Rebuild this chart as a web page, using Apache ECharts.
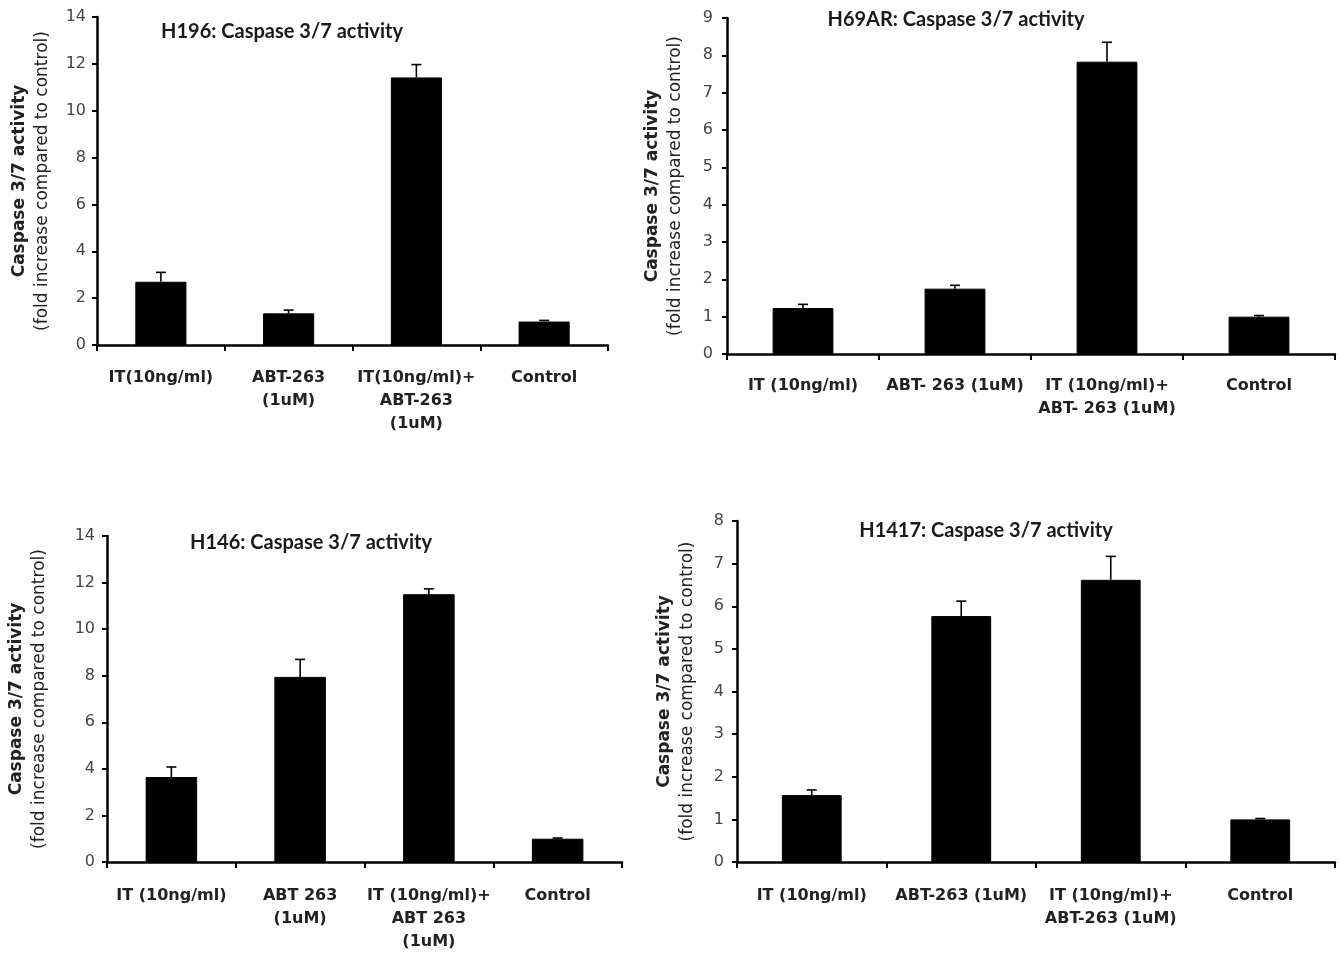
<!DOCTYPE html>
<html>
<head>
<meta charset="utf-8">
<script src="https://cdn.jsdelivr.net/npm/echarts@6/dist/echarts.min.js"></script>
<style>
html,body{margin:0;padding:0;background:#fff;}
#c{width:1340px;height:954px;}
</style>
</head>
<body>
<div id="c"></div>
<script>
// ---- data ----
const titles = ['H196: Caspase 3/7 activity', 'H69AR: Caspase 3/7 activity', 'H146: Caspase 3/7 activity', 'H1417: Caspase 3/7 activity'];
const cats1 = ['IT(10ng/ml)', 'ABT-263\n(1uM)', 'IT(10ng/ml)+\nABT-263\n(1uM)', 'Control'];
const cats2 = ['IT (10ng/ml)', 'ABT- 263 (1uM)', 'IT (10ng/ml)+\nABT- 263 (1uM)', 'Control'];
const cats3 = ['IT (10ng/ml)', 'ABT 263\n(1uM)', 'IT (10ng/ml)+\nABT 263\n(1uM)', 'Control'];
const cats4 = ['IT (10ng/ml)', 'ABT-263 (1uM)', 'IT (10ng/ml)+\nABT-263 (1uM)', 'Control'];
const vals1 = [2.7, 1.35, 11.42, 1.0];
const errs1 = [0.4, 0.14, 0.55, 0.05];
const vals2 = [1.23, 1.75, 7.83, 1.0];
const errs2 = [0.1, 0.09, 0.52, 0.03];
const vals3 = [3.65, 7.95, 11.5, 1.0];
const errs3 = [0.43, 0.75, 0.23, 0.03];
const vals4 = [1.57, 5.77, 6.62, 1.0];
const errs4 = [0.12, 0.35, 0.55, 0.02];
const yMax = [14, 9, 14, 8];
const yStep = [2, 1, 2, 1];
const yAxisName = ['Caspase 3/7 activity', '(fold increase compared to control)'];

// ---- layout ----
const grids = [
  {left: 97, top: 17, width: 511, height: 328},
  {left: 727, top: 18, width: 608, height: 336},
  {left: 107, top: 536, width: 515, height: 326},
  {left: 737, top: 521, width: 598, height: 341}
];
const titlePos = [[282, 22], [956, 10], [311, 533], [986, 521]];
const nameGaps = [43, 40, 56, 38];
const labelMargins = [21, 20, 22, 22];
const tickMargins = [11, 14, 12, 13];

const cats = [cats1, cats2, cats3, cats4];
const vals = [vals1, vals2, vals3, vals4];
const errs = [errs1, errs2, errs3, errs4];

const option = {
  backgroundColor: '#fff',
  animation: false,
  title: titles.map((t, i) => ({
    text: t, left: titlePos[i][0], top: titlePos[i][1], textAlign: 'center', padding: 0,
    textStyle: {fontFamily: 'Lato', fontWeight: 'bold', fontSize: 20, color: '#1a1a1a'}
  })),
  grid: grids.map(g => Object.assign({containLabel: false}, g)),
  xAxis: cats.map((c, i) => ({
    type: 'category', gridIndex: i, data: c,
    axisLine: {show: true, lineStyle: {color: '#000', width: 2.5}},
    axisTick: {show: true, inside: false, length: 6, lineStyle: {color: '#000', width: 2}, alignWithLabel: false},
    axisLabel: {interval: 0, margin: labelMargins[i], fontFamily: 'DejaVu Sans', fontWeight: 'bold', fontSize: 16, lineHeight: 23, color: '#222'},
    splitLine: {show: false}
  })),
  yAxis: yMax.map((m, i) => ({
    type: 'value', gridIndex: i, min: 0, max: m, interval: yStep[i],
    name: '{a|' + yAxisName[0] + '}\n{b|' + yAxisName[1] + '}',
    nameLocation: 'middle', nameRotate: 90, nameGap: nameGaps[i],
    nameTextStyle: {
      lineHeight: 23,
      rich: {
        a: {fontFamily: 'DejaVu Sans', fontWeight: 'bold', fontSize: 17, color: '#222', lineHeight: 23},
        b: {fontFamily: 'DejaVu Sans', fontWeight: 'normal', fontSize: 17, color: '#222', lineHeight: 23}
      }
    },
    axisLine: {show: true, lineStyle: {color: '#000', width: 2.5}},
    axisTick: {show: true, inside: false, length: 5, lineStyle: {color: '#000', width: 2}},
    axisLabel: {margin: tickMargins[i], fontFamily: 'DejaVu Sans', fontSize: 16, color: '#444'},
    splitLine: {show: false}
  })),
  series: []
};

for (let i = 0; i < 4; i++) {
  option.series.push({
    type: 'bar', xAxisIndex: i, yAxisIndex: i, data: vals[i], barWidth: '40%',
    itemStyle: {color: '#000', borderColor: '#000', borderWidth: 1}, z: 2
  });
  option.series.push({
    type: 'custom', xAxisIndex: i, yAxisIndex: i, z: 3,
    data: vals[i].map((v, k) => [k, v, errs[i][k]]),
    encode: {x: 0, y: 1},
    renderItem: function (params, api) {
      const k = api.value(0), v = api.value(1), e = api.value(2);
      const p0 = api.coord([k, v]);
      const p1 = api.coord([k, v + e]);
      const st = {stroke: '#000', lineWidth: 1.6};
      return {
        type: 'group',
        children: [
          {type: 'line', shape: {x1: p0[0], y1: p0[1], x2: p1[0], y2: p1[1]}, style: st},
          {type: 'line', shape: {x1: p1[0] - 5, y1: p1[1], x2: p1[0] + 5, y2: p1[1]}, style: st}
        ]
      };
    }
  });
}

const chart = echarts.init(document.getElementById('c'), null, {renderer: 'canvas'});
chart.setOption(option);
</script>
</body>
</html>
